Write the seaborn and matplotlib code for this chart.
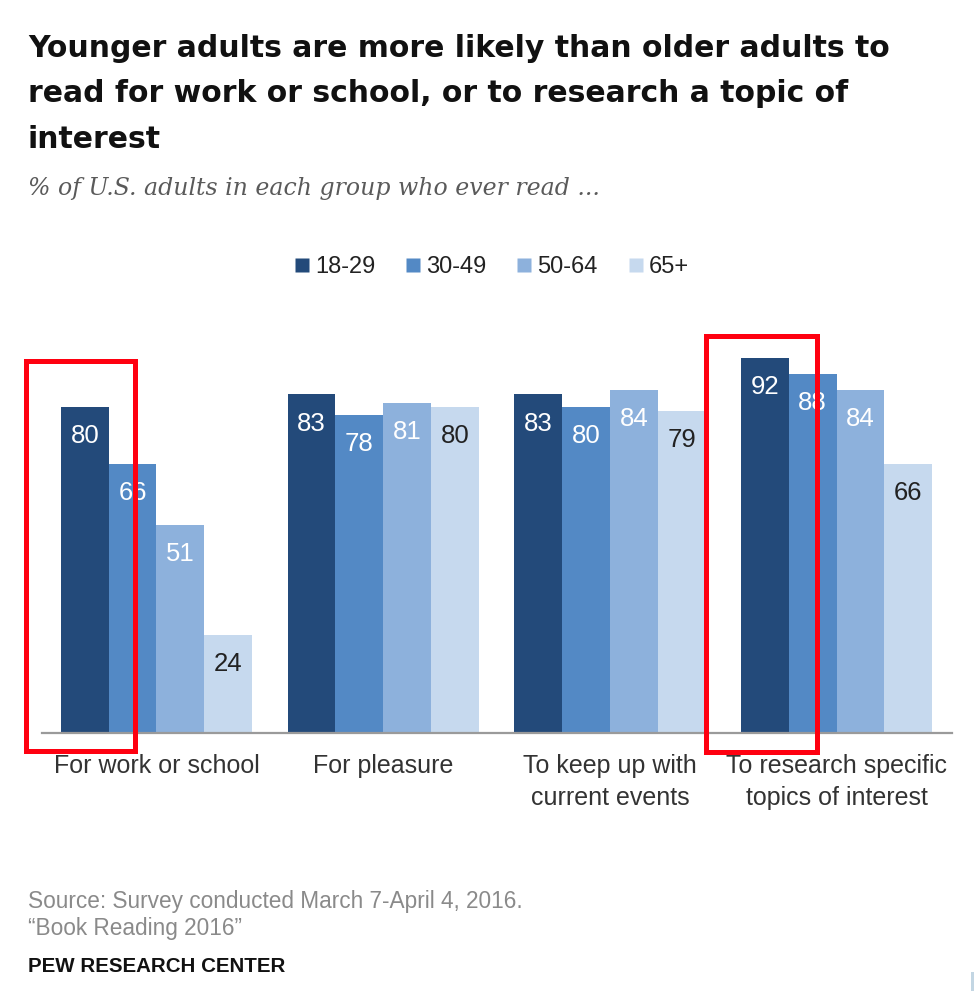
import matplotlib
matplotlib.use("Agg")
import matplotlib.pyplot as plt
import seaborn as sns
import pandas as pd
from matplotlib.patches import Rectangle
from matplotlib.lines import Line2D

# ---- data ----
categories = ["For work or school", "For pleasure",
              "To keep up with\ncurrent events", "To research specific\ntopics of interest"]
age_groups = ["18-29", "30-49", "50-64", "65+"]
values_18_29 = [80, 83, 83, 92]
values_30_49 = [66, 78, 80, 88]
values_50_64 = [51, 81, 84, 84]
values_65p = [24, 80, 79, 66]
colors = ["#234a7a", "#5389c5", "#8db1dc", "#c6d9ee"]
label_colors = ["white", "white", "white", "#222222"]

title_lines = ["Younger adults are more likely than older adults to",
               "read for work or school, or to research a topic of",
               "interest"]
subtitle = "% of U.S. adults in each group who ever read ..."
source_lines = ["Source: Survey conducted March 7-April 4, 2016.",
                "\u201cBook Reading 2016\u201d"]
brand = "PEW RESEARCH CENTER"

series = [values_18_29, values_30_49, values_50_64, values_65p]
df = pd.DataFrame({
    "category": [c for s in series for c in categories],
    "age": [a for a, s in zip(age_groups, series) for _ in s],
    "value": [v for s in series for v in s],
})

sns.set_theme(style="white")
plt.rcParams["font.family"] = ["Liberation Sans", "DejaVu Sans"]

W, H = 975, 991
fig = plt.figure(figsize=(W / 100, H / 100), dpi=100)

def fx(px):
    return px / W

def fy(py):
    return (H - py) / H

ax = fig.add_axes([fx(42), fy(733), fx(952) - fx(42), fy(325) - fy(733)])
sns.barplot(data=df, x="category", y="value", hue="age", order=categories,
            hue_order=age_groups, palette=dict(zip(age_groups, colors)),
            width=0.843, gap=0, saturation=1, ax=ax, legend=False,
            linewidth=0, edgecolor="none")

ax.set_xlim(-0.505, 3.509)
ax.set_ylim(0, 100)
ax.set_xlabel("")
ax.set_ylabel("")
ax.set_yticks([])
for s in ["left", "right", "top"]:
    ax.spines[s].set_visible(False)
ax.spines["bottom"].set_color("#9a9a9a")
ax.spines["bottom"].set_linewidth(1.6)
ax.tick_params(axis="x", length=0, pad=15, labelsize=18, labelcolor="#333333")
for lab in ax.get_xticklabels():
    lab.set_linespacing(1.42)

# value labels
for cont, lc in zip(ax.containers, label_colors):
    for bar in cont:
        h = bar.get_height()
        ax.annotate(f"{h:.0f}", xy=(bar.get_x() + bar.get_width() / 2, h),
                    xytext=(0, -21), textcoords="offset points",
                    ha="center", va="center", fontsize=18.5, color=lc)

# legend
handles = [Line2D([0], [0], marker="s", linestyle="none", markersize=10.5,
                  markerfacecolor=c, markeredgecolor="none") for c in colors]
fig.legend(handles, age_groups, loc="center", bbox_to_anchor=(fx(492), fy(267)),
           ncol=4, frameon=False, fontsize=17, handlelength=0.6,
           handletextpad=0.25, columnspacing=1.3, labelcolor="#222222")

# title
for i, line in enumerate(title_lines):
    fig.text(fx(28), fy(57 + 45.5 * i), line, fontsize=21.5, fontweight="bold",
             family=["DejaVu Sans"], color="#111111", va="baseline", ha="left")

fig.text(fx(28), fy(195), subtitle, fontsize=17, style="italic",
         family=["DejaVu Serif"], color="#5a5a5a",
         va="baseline", ha="left")

# source / brand
for i, line in enumerate(source_lines):
    fig.text(fx(28), fy(908 + 27 * i), line, fontsize=16.3, color="#8a8a8a",
             va="baseline", ha="left")
fig.text(fx(28), fy(972), brand, fontsize=14.8, fontweight="bold",
         color="#111111", va="baseline", ha="left")

# red highlight boxes
for (x0, y0, x1, y1) in [(25.5, 360.5, 134.5, 750.5), (705.5, 336.5, 816.5, 751.5)]:
    fig.add_artist(Rectangle((fx(x0), fy(y1)), fx(x1) - fx(x0), fy(y0) - fy(y1),
                             transform=fig.transFigure, fill=False,
                             edgecolor="#ff0010", linewidth=3.6, zorder=10))

# small light mark at bottom-right corner of the reference crop
fig.add_artist(Rectangle((fx(971), 0), fx(3), fy(972), transform=fig.transFigure,
                         facecolor="#c3d6e3", edgecolor="none"))

fig.savefig("out.png", dpi=100)
